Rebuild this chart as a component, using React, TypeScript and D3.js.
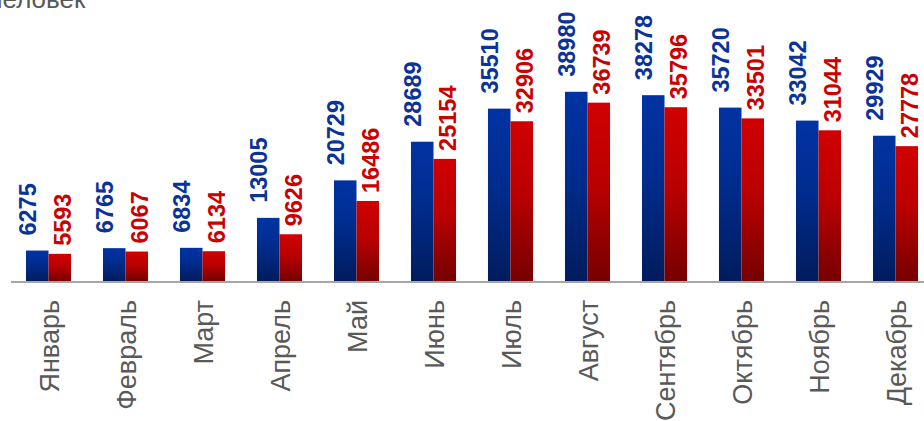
import { useEffect } from 'react';
import * as d3 from 'd3';

const months = ['Январь', 'Февраль', 'Март', 'Апрель', 'Май', 'Июнь', 'Июль', 'Август', 'Сентябрь', 'Октябрь', 'Ноябрь', 'Декабрь'];
const seriesKeys = ['a', 'b'];
const valuesBlue = [6275, 6765, 6834, 13005, 20729, 28689, 35510, 38980, 38278, 35720, 33042, 29929];
const valuesRed = [5593, 6067, 6134, 9626, 16486, 25154, 32906, 36739, 35796, 33501, 31044, 27778];
const unitLabel = 'человек';

const W = 924;
const H = 421;
const BASE = 281;

const FILLS = ['url(#gBlue)', 'url(#gRed)'];
const TEXT_COLORS = ['#0a3399', '#cc0000'];
// label offsets per series (x relative to bar, gap above bar)
const LABEL_DX = [10, 22];
const LABEL_GAP = [15, 8];

export default function App() {
  useEffect(() => {
    document.body.style.margin = '0';
  }, []);

  const x0 = d3.scaleBand<string>().domain(months).range([10, 934]).paddingInner(0.415).paddingOuter(0.2075);
  const x1 = d3.scaleBand<string>().domain(seriesKeys).range([0, x0.bandwidth()]);
  const y = d3.scaleLinear().domain([0, 40000]).range([BASE, BASE - 40000 / 206]);

  const series = [valuesBlue, valuesRed];

  return (
    <svg width={W} height={H} style={{ display: 'block', fontFamily: 'Arial, "Liberation Sans", sans-serif' }}>
      <defs>
        <linearGradient id="gBlue" x1="0" y1="0" x2="0" y2="1">
          <stop offset="0" stopColor="#0033a3" />
          <stop offset="0.45" stopColor="#002c8e" />
          <stop offset="1" stopColor="#001c5c" />
        </linearGradient>
        <linearGradient id="gRed" x1="0" y1="0" x2="0" y2="1">
          <stop offset="0" stopColor="#d00000" />
          <stop offset="0.45" stopColor="#bb0000" />
          <stop offset="1" stopColor="#760000" />
        </linearGradient>
      </defs>

      <text x={-11} y={8} fontSize={26} fill="#595959">{unitLabel}</text>

      {months.map((m, i) => (
        <g key={m}>
          {series.map((vals, si) => {
            const bx = x0(m)! + x1(seriesKeys[si])!;
            const top = y(vals[i]);
            const tx = bx + LABEL_DX[si];
            const ty = top - LABEL_GAP[si];
            return (
              <g key={si}>
                <rect x={bx} y={top} width={x1.bandwidth()} height={BASE - top} fill={FILLS[si]} />
                <text
                  transform={`translate(${tx},${ty}) rotate(-90)`}
                  fontSize={23.5}
                  fontWeight="bold"
                  fill={TEXT_COLORS[si]}
                >
                  {vals[i]}
                </text>
              </g>
            );
          })}
        </g>
      ))}

      <line x1={11} x2={W} y1={BASE + 1} y2={BASE + 1} stroke="#a6a6a6" strokeWidth={2} />

      {months.map(m => {
        const cx = x0(m)! + x0.bandwidth() / 2;
        return (
          <text
            key={m}
            transform={`translate(${cx + 10},${BASE + 19}) rotate(-90)`}
            textAnchor="end"
            fontSize={27}
            fill="#595959"
          >
            {m}
          </text>
        );
      })}
    </svg>
  );
}
